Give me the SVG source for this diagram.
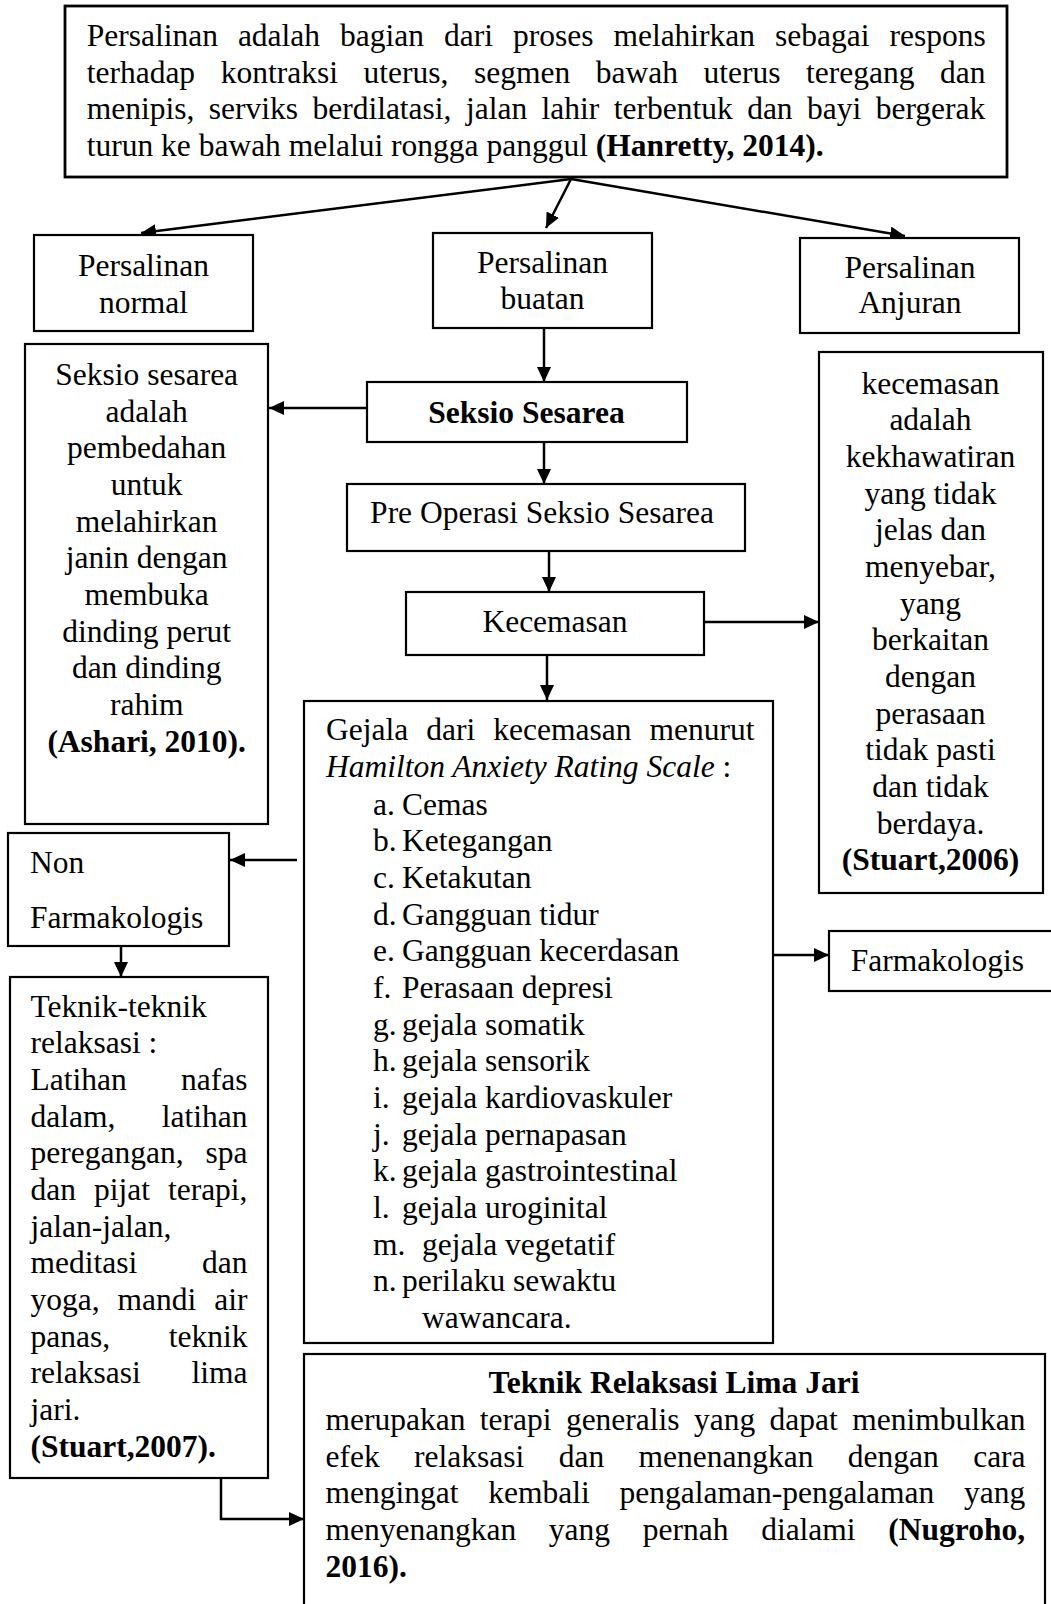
<svg xmlns="http://www.w3.org/2000/svg" width="1051" height="1604" viewBox="0 0 1051 1604" font-family="Liberation Serif, serif">
<style>
text{font-family:'Liberation Serif','Times New Roman',serif;font-size:31.5px;fill:#000}
.b{font-weight:bold}
.i{font-style:italic}
.c{text-anchor:middle}
.box{fill:#fff;stroke:#000;stroke-width:2.2}
.con{fill:none;stroke:#000;stroke-width:2.5}
</style>
<defs>
<marker id="ah" markerUnits="userSpaceOnUse" markerWidth="16" markerHeight="14" refX="15" refY="7" orient="auto">
<path d="M0,0 L15,7 L0,14 Z" fill="#000"/>
</marker>
</defs>
<rect width="1051" height="1604" fill="#fff"/>

<g id="connectors">
<line class="con" x1="571" y1="179" x2="141" y2="233" marker-end="url(#ah)"/>
<line class="con" x1="571" y1="179" x2="546" y2="228" marker-end="url(#ah)"/>
<line class="con" x1="571" y1="179" x2="905" y2="236" marker-end="url(#ah)"/>
<line class="con" x1="544" y1="328" x2="544" y2="382" marker-end="url(#ah)"/>
<line class="con" x1="366" y1="408" x2="269" y2="408" marker-end="url(#ah)"/>
<line class="con" x1="544" y1="442" x2="544" y2="484" marker-end="url(#ah)"/>
<line class="con" x1="549" y1="551" x2="549" y2="592" marker-end="url(#ah)"/>
<line class="con" x1="547" y1="655" x2="547" y2="700" marker-end="url(#ah)"/>
<line class="con" x1="704" y1="622" x2="819" y2="622" marker-end="url(#ah)"/>
<line class="con" x1="297" y1="860" x2="230" y2="860" marker-end="url(#ah)"/>
<line class="con" x1="121" y1="946" x2="121" y2="977" marker-end="url(#ah)"/>
<line class="con" x1="773" y1="955" x2="829" y2="955" marker-end="url(#ah)"/>
<polyline class="con" points="221,1478 221,1519 304,1519" marker-end="url(#ah)"/>
</g>

<g id="node-persalinan">
<rect class="box" x="65" y="6" width="942" height="171" style="stroke-width:2.8"/>
<text x="86.7" y="46" style="word-spacing:12.1px">Persalinan adalah bagian dari proses melahirkan sebagai respons</text>
<text x="86.7" y="82.7" style="word-spacing:17.7px">terhadap kontraksi uterus, segmen bawah uterus teregang dan</text>
<text x="86.7" y="119.3" style="word-spacing:6.56px">menipis, serviks berdilatasi, jalan lahir terbentuk dan bayi bergerak</text>
<text x="86.7" y="156">turun ke bawah melalui rongga panggul <tspan class="b">(Hanretty, 2014).</tspan></text>
</g>

<g id="node-normal">
<rect class="box" x="34" y="235" width="219" height="96"/>
<text class="c" x="143.5" y="276">Persalinan</text>
<text class="c" x="143.5" y="313">normal</text>
</g>

<g id="node-buatan">
<rect class="box" x="433" y="233" width="219" height="95"/>
<text class="c" x="542.5" y="273.3">Persalinan</text>
<text class="c" x="542.5" y="309.3">buatan</text>
</g>

<g id="node-anjuran">
<rect class="box" x="800" y="238" width="219" height="95"/>
<text class="c" x="910" y="278.3">Persalinan</text>
<text class="c" x="910" y="313.3">Anjuran</text>
</g>

<g id="node-seksio">
<rect class="box" x="367" y="382" width="320" height="60"/>
<text class="c b" x="526.5" y="422.7">Seksio Sesarea</text>
</g>

<g id="node-def-seksio">
<rect class="box" x="25" y="344" width="243" height="480"/>
<text class="c" x="146.7" y="385">Seksio sesarea</text>
<text class="c" x="146.7" y="421.7">adalah</text>
<text class="c" x="146.7" y="458.3">pembedahan</text>
<text class="c" x="146.7" y="495">untuk</text>
<text class="c" x="146.7" y="531.7">melahirkan</text>
<text class="c" x="146.7" y="568.3">janin dengan</text>
<text class="c" x="146.7" y="605">membuka</text>
<text class="c" x="146.7" y="641.7">dinding perut</text>
<text class="c" x="146.7" y="678.3">dan dinding</text>
<text class="c" x="146.7" y="715">rahim</text>
<text class="c b" x="146.7" y="751.7">(Ashari, 2010).</text>
</g>

<g id="node-preop">
<rect class="box" x="347" y="484" width="398" height="67"/>
<text class="c" x="542" y="523.3">Pre Operasi Seksio Sesarea</text>
</g>

<g id="node-kecemasan">
<rect class="box" x="406" y="592" width="298" height="63"/>
<text class="c" x="555" y="631.7">Kecemasan</text>
</g>

<g id="node-def-kecemasan">
<rect class="box" x="819" y="352" width="224" height="541"/>
<text class="c" x="930.5" y="393.5">kecemasan</text>
<text class="c" x="930.5" y="430.2">adalah</text>
<text class="c" x="930.5" y="466.8">kekhawatiran</text>
<text class="c" x="930.5" y="503.5">yang tidak</text>
<text class="c" x="930.5" y="540.2">jelas dan</text>
<text class="c" x="930.5" y="576.8">menyebar,</text>
<text class="c" x="930.5" y="613.5">yang</text>
<text class="c" x="930.5" y="650.2">berkaitan</text>
<text class="c" x="930.5" y="686.8">dengan</text>
<text class="c" x="930.5" y="723.5">perasaan</text>
<text class="c" x="930.5" y="760.2">tidak pasti</text>
<text class="c" x="930.5" y="796.8">dan tidak</text>
<text class="c" x="930.5" y="833.5">berdaya.</text>
<text class="c b" x="930.5" y="870.2">(Stuart,2006)</text>
</g>

<g id="node-gejala">
<rect class="box" x="304" y="701" width="469" height="642"/>
<text x="326" y="740" style="word-spacing:10.2px">Gejala dari kecemasan menurut</text>
<text x="326" y="776.7"><tspan class="i">Hamilton Anxiety Rating Scale</tspan> :</text>
<text x="373" y="814.5">a.</text><text x="402" y="814.5">Cemas</text>
<text x="373" y="851.2">b.</text><text x="402" y="851.2">Ketegangan</text>
<text x="373" y="887.8">c.</text><text x="402" y="887.8">Ketakutan</text>
<text x="373" y="924.5">d.</text><text x="402" y="924.5">Gangguan tidur</text>
<text x="373" y="961.2">e.</text><text x="402" y="961.2">Gangguan kecerdasan</text>
<text x="373" y="997.8">f.</text><text x="402" y="997.8">Perasaan depresi</text>
<text x="373" y="1034.5">g.</text><text x="402" y="1034.5">gejala somatik</text>
<text x="373" y="1071.2">h.</text><text x="402" y="1071.2">gejala sensorik</text>
<text x="373" y="1107.8">i.</text><text x="402" y="1107.8">gejala kardiovaskuler</text>
<text x="373" y="1144.5">j.</text><text x="402" y="1144.5">gejala pernapasan</text>
<text x="373" y="1181.2">k.</text><text x="402" y="1181.2">gejala gastrointestinal</text>
<text x="373" y="1217.8">l.</text><text x="402" y="1217.8">gejala uroginital</text>
<text x="373" y="1254.5">m.</text><text x="422" y="1254.5">gejala vegetatif</text>
<text x="373" y="1291.2">n.</text><text x="402" y="1291.2">perilaku sewaktu</text>
<text x="422" y="1327.8">wawancara.</text>
</g>

<g id="node-nonfarmakologis">
<rect class="box" x="8" y="833" width="221" height="113"/>
<text x="30" y="873.3">Non</text>
<text x="30" y="928.3">Farmakologis</text>
</g>

<g id="node-farmakologis">
<rect class="box" x="829" y="931" width="240" height="60"/>
<text x="850.7" y="970.7">Farmakologis</text>
</g>

<g id="node-teknik">
<rect class="box" x="10" y="977" width="258" height="501"/>
<text x="30.5" y="1016.7">Teknik-teknik</text>
<text x="30.5" y="1053.3">relaksasi :</text>
<text x="30.5" y="1090" style="word-spacing:46.4px">Latihan nafas</text>
<text x="30.5" y="1126.7" style="word-spacing:38.5px">dalam, latihan</text>
<text x="30.5" y="1163.3" style="word-spacing:14.1px">peregangan, spa</text>
<text x="30.5" y="1200" style="word-spacing:10.1px">dan pijat terapi,</text>
<text x="30.5" y="1236.7">jalan-jalan,</text>
<text x="30.5" y="1273.3" style="word-spacing:56.9px">meditasi dan</text>
<text x="30.5" y="1310" style="word-spacing:10.1px">yoga, mandi air</text>
<text x="30.5" y="1346.7" style="word-spacing:50.8px">panas, teknik</text>
<text x="30.5" y="1383.3" style="word-spacing:42.9px">relaksasi lima</text>
<text x="30.5" y="1420">jari.</text>
<text class="b" x="30.5" y="1456.7">(Stuart,2007).</text>
</g>

<g id="node-lima-jari">
<rect class="box" x="304" y="1354" width="741" height="270"/>
<text class="c b" x="674" y="1393.3">Teknik Relaksasi Lima Jari</text>
<text x="325.5" y="1430" style="word-spacing:6.5px">merupakan terapi generalis yang dapat menimbulkan</text>
<text x="325.5" y="1466.7" style="word-spacing:26.5px">efek relaksasi dan menenangkan dengan cara</text>
<text x="325.5" y="1503.3" style="word-spacing:21.9px">mengingat kembali pengalaman-pengalaman yang</text>
<text x="325.5" y="1540" style="word-spacing:24.8px">menyenangkan yang pernah dialami <tspan class="b">(Nugroho,</tspan></text>
<text class="b" x="325.5" y="1576.7">2016).</text>
</g>
</svg>
